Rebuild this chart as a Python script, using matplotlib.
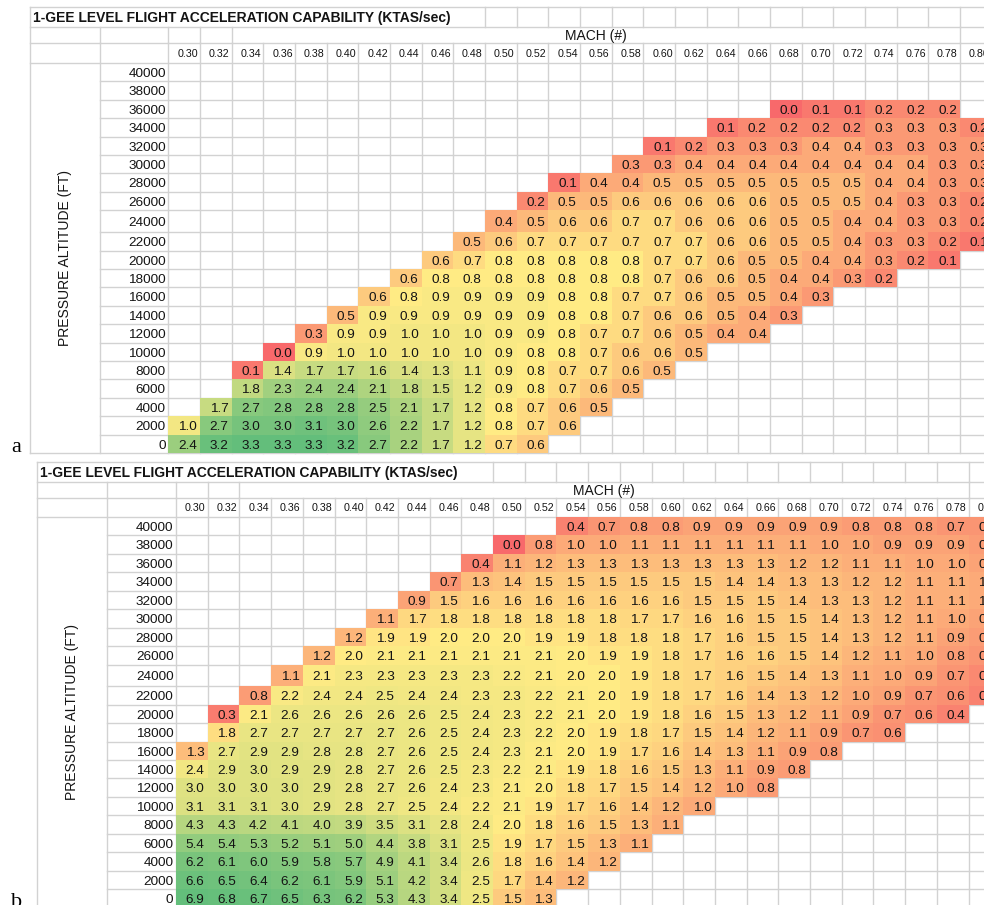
import numpy as np
import matplotlib
matplotlib.use("Agg")
import matplotlib.pyplot as plt
from matplotlib.colors import LinearSegmentedColormap, Normalize
from matplotlib.transforms import blended_transform_factory

plt.rcParams['font.family'] = ['Liberation Sans', 'DejaVu Sans']

# ---------------- data ----------------
TITLE = "1-GEE LEVEL FLIGHT ACCELERATION CAPABILITY (KTAS/sec)"
X_LABEL = "MACH (#)"
Y_LABEL = "PRESSURE ALTITUDE (FT)"

mach_labels = ["0.30", "0.32", "0.34", "0.36", "0.38", "0.40", "0.42", "0.44", "0.46",
               "0.48", "0.50", "0.52", "0.54", "0.56", "0.58", "0.60", "0.62", "0.64",
               "0.66", "0.68", "0.70", "0.72", "0.74", "0.76", "0.78", "0.80"]
altitudes = ["40000", "38000", "36000", "34000", "32000", "30000", "28000", "26000",
             "24000", "22000", "20000", "18000", "16000", "14000", "12000", "10000",
             "8000", "6000", "4000", "2000", "0"]

# Panel a: first Mach column with a value, per altitude row, and the row values
a_first = [None, None, "0.68", "0.64", "0.60", "0.58", "0.54", "0.52", "0.50", "0.48",
           "0.46", "0.44", "0.42", "0.40", "0.38", "0.36", "0.34", "0.34", "0.32",
           "0.30", "0.30"]
a_rows = [
    [],
    [],
    [0.0, 0.1, 0.1, 0.2, 0.2, 0.2],
    [0.1, 0.2, 0.2, 0.2, 0.2, 0.3, 0.3, 0.3, 0.2],
    [0.1, 0.2, 0.3, 0.3, 0.3, 0.4, 0.4, 0.3, 0.3, 0.3, 0.3],
    [0.3, 0.3, 0.4, 0.4, 0.4, 0.4, 0.4, 0.4, 0.4, 0.4, 0.3, 0.3],
    [0.1, 0.4, 0.4, 0.5, 0.5, 0.5, 0.5, 0.5, 0.5, 0.5, 0.4, 0.4, 0.3, 0.3],
    [0.2, 0.5, 0.5, 0.6, 0.6, 0.6, 0.6, 0.6, 0.5, 0.5, 0.5, 0.4, 0.3, 0.3, 0.2],
    [0.4, 0.5, 0.6, 0.6, 0.7, 0.7, 0.6, 0.6, 0.6, 0.5, 0.5, 0.4, 0.4, 0.3, 0.3, 0.2],
    [0.5, 0.6, 0.7, 0.7, 0.7, 0.7, 0.7, 0.7, 0.6, 0.6, 0.5, 0.5, 0.4, 0.3, 0.3, 0.2, 0.1],
    [0.6, 0.7, 0.8, 0.8, 0.8, 0.8, 0.8, 0.7, 0.7, 0.6, 0.5, 0.5, 0.4, 0.4, 0.3, 0.2, 0.1],
    [0.6, 0.8, 0.8, 0.8, 0.8, 0.8, 0.8, 0.8, 0.7, 0.6, 0.6, 0.5, 0.4, 0.4, 0.3, 0.2],
    [0.6, 0.8, 0.9, 0.9, 0.9, 0.9, 0.8, 0.8, 0.7, 0.7, 0.6, 0.5, 0.5, 0.4, 0.3],
    [0.5, 0.9, 0.9, 0.9, 0.9, 0.9, 0.9, 0.8, 0.8, 0.7, 0.6, 0.6, 0.5, 0.4, 0.3],
    [0.3, 0.9, 0.9, 1.0, 1.0, 1.0, 0.9, 0.9, 0.8, 0.7, 0.7, 0.6, 0.5, 0.4, 0.4],
    [0.0, 0.9, 1.0, 1.0, 1.0, 1.0, 1.0, 0.9, 0.8, 0.8, 0.7, 0.6, 0.6, 0.5],
    [0.1, 1.4, 1.7, 1.7, 1.6, 1.4, 1.3, 1.1, 0.9, 0.8, 0.7, 0.7, 0.6, 0.5],
    [1.8, 2.3, 2.4, 2.4, 2.1, 1.8, 1.5, 1.2, 0.9, 0.8, 0.7, 0.6, 0.5],
    [1.7, 2.7, 2.8, 2.8, 2.8, 2.5, 2.1, 1.7, 1.2, 0.8, 0.7, 0.6, 0.5],
    [1.0, 2.7, 3.0, 3.0, 3.1, 3.0, 2.6, 2.2, 1.7, 1.2, 0.8, 0.7, 0.6],
    [2.4, 3.2, 3.3, 3.3, 3.3, 3.2, 2.7, 2.2, 1.7, 1.2, 0.7, 0.6],
]

# Panel b
b_first = ["0.54", "0.50", "0.48", "0.46", "0.44", "0.42", "0.40", "0.38", "0.36", "0.34",
           "0.32", "0.32", "0.30", "0.30", "0.30", "0.30", "0.30", "0.30", "0.30", "0.30",
           "0.30"]
b_rows = [
    [0.4, 0.7, 0.8, 0.8, 0.9, 0.9, 0.9, 0.9, 0.9, 0.8, 0.8, 0.8, 0.7, 0.7],
    [0.0, 0.8, 1.0, 1.0, 1.1, 1.1, 1.1, 1.1, 1.1, 1.1, 1.0, 1.0, 0.9, 0.9, 0.9, 0.8],
    [0.4, 1.1, 1.2, 1.3, 1.3, 1.3, 1.3, 1.3, 1.3, 1.3, 1.2, 1.2, 1.1, 1.1, 1.0, 1.0, 0.9],
    [0.7, 1.3, 1.4, 1.5, 1.5, 1.5, 1.5, 1.5, 1.5, 1.4, 1.4, 1.3, 1.3, 1.2, 1.2, 1.1, 1.1, 1.0],
    [0.9, 1.5, 1.6, 1.6, 1.6, 1.6, 1.6, 1.6, 1.6, 1.5, 1.5, 1.5, 1.4, 1.3, 1.3, 1.2, 1.1, 1.1,
     1.0],
    [1.1, 1.7, 1.8, 1.8, 1.8, 1.8, 1.8, 1.8, 1.7, 1.7, 1.6, 1.6, 1.5, 1.5, 1.4, 1.3, 1.2, 1.1,
     1.0, 0.9],
    [1.2, 1.9, 1.9, 2.0, 2.0, 2.0, 1.9, 1.9, 1.8, 1.8, 1.8, 1.7, 1.6, 1.5, 1.5, 1.4, 1.3, 1.2,
     1.1, 0.9, 0.8],
    [1.2, 2.0, 2.1, 2.1, 2.1, 2.1, 2.1, 2.1, 2.0, 1.9, 1.9, 1.8, 1.7, 1.6, 1.6, 1.5, 1.4, 1.2,
     1.1, 1.0, 0.8, 0.7],
    [1.1, 2.1, 2.3, 2.3, 2.3, 2.3, 2.3, 2.2, 2.1, 2.0, 2.0, 1.9, 1.8, 1.7, 1.6, 1.5, 1.4, 1.3,
     1.1, 1.0, 0.9, 0.7, 0.5],
    [0.8, 2.2, 2.4, 2.4, 2.5, 2.4, 2.4, 2.3, 2.3, 2.2, 2.1, 2.0, 1.9, 1.8, 1.7, 1.6, 1.4, 1.3,
     1.2, 1.0, 0.9, 0.7, 0.6, 0.4],
    [0.3, 2.1, 2.6, 2.6, 2.6, 2.6, 2.6, 2.5, 2.4, 2.3, 2.2, 2.1, 2.0, 1.9, 1.8, 1.6, 1.5, 1.3,
     1.2, 1.1, 0.9, 0.7, 0.6, 0.4],
    [1.8, 2.7, 2.7, 2.7, 2.7, 2.7, 2.6, 2.5, 2.4, 2.3, 2.2, 2.0, 1.9, 1.8, 1.7, 1.5, 1.4, 1.2,
     1.1, 0.9, 0.7, 0.6],
    [1.3, 2.7, 2.9, 2.9, 2.8, 2.8, 2.7, 2.6, 2.5, 2.4, 2.3, 2.1, 2.0, 1.9, 1.7, 1.6, 1.4, 1.3,
     1.1, 0.9, 0.8],
    [2.4, 2.9, 3.0, 2.9, 2.9, 2.8, 2.7, 2.6, 2.5, 2.3, 2.2, 2.1, 1.9, 1.8, 1.6, 1.5, 1.3, 1.1,
     0.9, 0.8],
    [3.0, 3.0, 3.0, 3.0, 2.9, 2.8, 2.7, 2.6, 2.4, 2.3, 2.1, 2.0, 1.8, 1.7, 1.5, 1.4, 1.2, 1.0,
     0.8],
    [3.1, 3.1, 3.1, 3.0, 2.9, 2.8, 2.7, 2.5, 2.4, 2.2, 2.1, 1.9, 1.7, 1.6, 1.4, 1.2, 1.0],
    [4.3, 4.3, 4.2, 4.1, 4.0, 3.9, 3.5, 3.1, 2.8, 2.4, 2.0, 1.8, 1.6, 1.5, 1.3, 1.1],
    [5.4, 5.4, 5.3, 5.2, 5.1, 5.0, 4.4, 3.8, 3.1, 2.5, 1.9, 1.7, 1.5, 1.3, 1.1],
    [6.2, 6.1, 6.0, 5.9, 5.8, 5.7, 4.9, 4.1, 3.4, 2.6, 1.8, 1.6, 1.4, 1.2],
    [6.6, 6.5, 6.4, 6.2, 6.1, 5.9, 5.1, 4.2, 3.4, 2.5, 1.7, 1.4, 1.2],
    [6.9, 6.8, 6.7, 6.5, 6.3, 6.2, 5.3, 4.3, 3.4, 2.5, 1.5, 1.3],
]

# colour-scale midpoints (value shown in yellow) for each panel
mid_a = 0.8
mid_b = 2.0


def build_matrix(first, rows):
    m = np.full((len(altitudes), len(mach_labels)), np.nan)
    for i, (f, r) in enumerate(zip(first, rows)):
        if f is None or not r:
            continue
        j0 = mach_labels.index(f)
        m[i, j0:j0 + len(r)] = r
    return m


# ---------------- figure ----------------
W, H = 984, 905
fig = plt.figure(figsize=(W / 100, H / 100), dpi=100)
cv = fig.add_axes([0, 0, 1, 1])
cv.set_xlim(0, W)
cv.set_ylim(H, 0)
cv.axis('off')

GRID = '#D2D2D2'
TXT = '#141414'
RED = np.array([248, 105, 107]) / 255
YEL = np.array([255, 235, 132]) / 255
GRN = np.array([99, 190, 123]) / 255


def panel(data, mid, geom, tag):
    fx, bx, gx, cw, top, th, mh, hh, rh, rbig = geom
    nrow, ncol = data.shape
    heights = np.full(nrow, rh)
    heights[altitudes.index("24000")] = rbig
    y_m = top + th
    y_h = y_m + mh
    y_d = y_h + hh
    edges = y_d + np.concatenate([[0], np.cumsum(heights)])
    centers = (edges[:-1] + edges[1:]) / 2
    y_b = edges[-1]
    x_r = gx + ncol * cw
    lk = dict(color=GRID, lw=1.0, zorder=1)

    # horizontal grid lines
    for y in (top, y_m, y_h, y_d, y_b):
        cv.plot([fx, x_r], [y, y], **lk)
    for y in edges[1:-1]:
        cv.plot([bx, x_r], [y, y], **lk)
    # vertical grid lines
    cv.plot([fx, fx], [top, y_b], **lk)
    for k in range(10, ncol + 1):
        x = gx + k * cw
        cv.plot([x, x], [top, y_m], **lk)
    for x in (bx, gx, gx + cw, gx + 2 * cw, gx + 25 * cw, gx + 26 * cw):
        cv.plot([x, x], [y_m, y_h], **lk)
    cv.plot([bx, bx], [y_h, y_b], **lk)
    for k in range(0, ncol + 1):
        x = gx + k * cw
        cv.plot([x, x], [y_h, y_b], **lk)

    # texts in frame
    cv.text(fx + 3, top + th / 2 + 5, TITLE, fontsize=10, fontweight='bold',
            color=TXT, ha='left', va='baseline')
    cv.text((gx + 2 * cw + gx + 25 * cw) / 2, y_m + mh / 2 + 5, X_LABEL, fontsize=10,
            color=TXT, ha='center', va='baseline')
    cv.text((fx + bx) / 2, (y_d + y_b) / 2, Y_LABEL, fontsize=10, color=TXT,
            rotation=90, ha='center', va='center')
    cv.text(11, y_b - 0.5, tag, fontsize=16, family='Liberation Serif', color='black',
            ha='left', va='baseline')

    # cell axes: x in column index, y in pixel rows
    ax = fig.add_axes([gx / W, 1 - y_b / H, ncol * cw / W, (y_b - y_d) / H])
    ax.set_xlim(-0.5, ncol - 0.5)
    ax.set_ylim(y_b, y_d)
    ax.axis('off')
    ax.patch.set_alpha(0)

    vals = data[~np.isnan(data)]
    lo, hi = vals.min(), vals.max()
    cmap = LinearSegmentedColormap.from_list(
        'xl', [(0.0, RED), ((mid - lo) / (hi - lo), YEL), (1.0, GRN)])
    ax.pcolormesh(np.arange(ncol + 1) - 0.5, edges, np.ma.masked_invalid(data),
                  cmap=cmap, norm=Normalize(lo, hi), shading='flat',
                  antialiased=False, edgecolors='none', zorder=2)

    body = 9.7
    cap = body * 100 / 72 * 0.716 / 2
    for i in range(nrow):
        for j in range(ncol):
            v = data[i, j]
            if np.isnan(v):
                continue
            ax.text(j + 0.4, centers[i] + cap, f"{v:.1f}", fontsize=body, color=TXT,
                    ha='right', va='baseline', clip_on=False, zorder=3)

    tx = blended_transform_factory(ax.transData, cv.transData)
    for j, lab in enumerate(mach_labels):
        ax.text(j + 0.43, y_h + hh / 2 + 3.8, lab, fontsize=7.7, color=TXT,
                ha='right', va='baseline', transform=tx, clip_on=False)
    for i, lab in enumerate(altitudes):
        cv.text(gx - 2.5, centers[i] + cap, lab, fontsize=body, color=TXT,
                ha='right', va='baseline')
    return ax


geom_a = (30, 100, 168.3, 31.67, 7, 20, 16, 20, 18.4, 22.0)
geom_b = (37, 107, 176.0, 31.7, 462, 20, 16, 19, 18.45, 21.6)

panel(build_matrix(a_first, a_rows), mid_a, geom_a, 'a')
panel(build_matrix(b_first, b_rows), mid_b, geom_b, 'b')

fig.savefig('out.png', dpi=100)
